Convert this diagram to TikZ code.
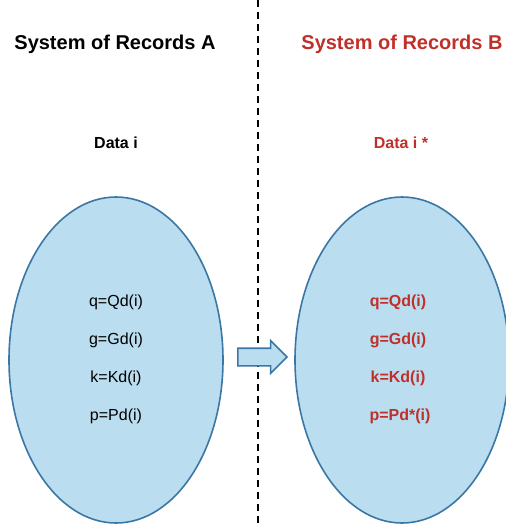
\documentclass[tikz,border=0pt]{standalone}
\usepackage{fontspec}
\setmainfont{Liberation Sans}
\usetikzlibrary{shapes.geometric,shapes.arrows}
\definecolor{recred}{HTML}{C0302A}
\definecolor{bubble}{HTML}{BADDEF}
\definecolor{rim}{HTML}{3B77A5}
\begin{document}
\begin{tikzpicture}[x=1pt,y=-1pt,
  title/.style={font=\bfseries\fontsize{20}{24}\selectfont},
  sub/.style={font=\bfseries\fontsize{16}{19}\selectfont},
  rec/.style={ellipse,draw=rim,line width=1.6pt,fill=bubble,minimum width=214pt,minimum height=326pt,inner sep=0pt},
  entry/.style={font=\fontsize{16}{19}\selectfont},
  newentry/.style={font=\bfseries\fontsize{16}{19}\selectfont,text=recred}]
\useasboundingbox (0,0) rectangle (506,525);
% divider
\draw[line width=1.5pt,dash pattern=on 7pt off 5pt] (258,0) -- (258,525);
% the two systems
\node[rec] (sysA) at (116,360) {};
\node[rec] (sysB) at (402,360) {};
\node[title] (titleA) at (115,44) {System of Records A};
\node[title,text=recred] (titleB) at (402,44) {System of Records B};
\node[sub] (dataA) at (116,143) {Data i};
\node[sub,text=recred] (dataB) at (401,143) {Data i *};
% entries
\node[entry] (qA) at (116,302) {q=Qd(i)};
\node[entry] (gA) at (116,340) {g=Gd(i)};
\node[entry] (kA) at (116,378) {k=Kd(i)};
\node[entry] (pA) at (116,416) {p=Pd(i)};
\node[newentry] (qB) at (398,302) {q=Qd(i)};
\node[newentry] (gB) at (398,340) {g=Gd(i)};
\node[newentry] (kB) at (398,378) {k=Kd(i)};
\node[newentry] (pB) at (400,416) {p=Pd*(i)};
% transfer
\node[single arrow,draw=rim,fill=bubble,line width=1.6pt,minimum height=49pt,
  inner xsep=0pt,inner ysep=8pt,single arrow head extend=7.5pt] (move) at (258,357) {};
\end{tikzpicture}
\end{document}
